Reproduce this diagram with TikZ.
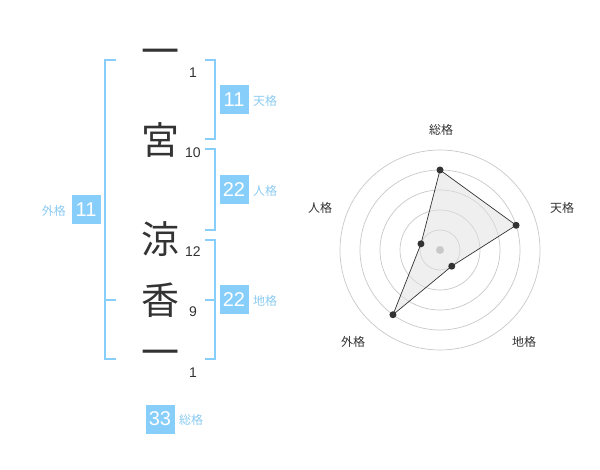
\documentclass[tikz,border=0pt]{standalone}
\usepackage{fontspec}
\setmainfont{Liberation Sans}
\newfontfamily\jp{Noto Sans CJK JP}
\definecolor{sky}{HTML}{87CEFA}
\definecolor{skytext}{HTML}{8CCBF2}
\definecolor{ink}{HTML}{333333}
\definecolor{ring}{HTML}{C8C8C8}
\definecolor{shade}{HTML}{E0E0E0}
\begin{document}
\begin{tikzpicture}[x=1pt,y=-1pt,
  kanji/.style={font=\jp\fontsize{38}{38}\selectfont,text=ink,inner sep=0pt},
  strokes/.style={font=\fontsize{14}{14}\selectfont,text=ink,inner sep=0pt},
  brk/.style={draw=sky,line width=2pt},
  valbox/.style={fill=sky,text=white,font=\fontsize{20}{20}\selectfont,minimum width=29pt,minimum height=29pt,inner sep=0pt},
  vallab/.style={text=skytext,font=\jp\fontsize{12}{12}\selectfont,inner sep=0pt},
  axlab/.style={text=ink,font=\jp\fontsize{12}{12}\selectfont,inner sep=0pt},
  dot/.style={circle,fill=ink,inner sep=0pt,minimum size=7pt}]
\useasboundingbox (0,0) rectangle (600,470);
% characters
\node[kanji] (c1) at (160,57) {一};
\node[kanji] (c2) at (160,140) {宮};
\node[kanji] (c3) at (160,239) {涼};
\node[kanji] (c4) at (160,300) {香};
\node[kanji] (c5) at (160,358) {一};
% stroke counts
\node[strokes] (s1) at (193,73) {1};
\node[strokes] (s2) at (193,153) {10};
\node[strokes] (s3) at (193,252) {12};
\node[strokes] (s4) at (193,312) {9};
\node[strokes] (s5) at (193,373) {1};
% outer bracket (外格)
\draw[brk] (116,60) -- (105,60) -- (105,359) -- (116,359);
\draw[brk] (105,300) -- (116,300);
% right brackets
\draw[brk] (205,60) -- (215,60) -- (215,139) -- (205,139);
\draw[brk] (205,149) -- (215,149) -- (215,230) -- (205,230);
\draw[brk] (205,240) -- (215,240) -- (215,359) -- (205,359);
\draw[brk] (205,300) -- (215,300);
% values
\node[valbox] (ten) at (234,100) {11};
\node[vallab,anchor=west] (tenl) at (253,101) {天格};
\node[valbox] (jin) at (234,190) {22};
\node[vallab,anchor=west] (jinl) at (253,191) {人格};
\node[valbox] (chi) at (234,300) {22};
\node[vallab,anchor=west] (chil) at (253,301) {地格};
\node[valbox] (gai) at (86,210) {11};
\node[vallab,anchor=east] (gail) at (66,211) {外格};
\node[valbox] (sou) at (160,419) {33};
\node[vallab,anchor=west] (soul) at (179,420) {総格};
% radar chart
\coordinate (O) at (440,250);
\foreach \r in {20,40,60,80,100} \draw[ring,line width=0.7pt] (O) circle[radius=\r];
\path (O) ++(-90:80) coordinate (pS);
\path (O) ++(-18:80) coordinate (pT);
\path (O) ++(54:20) coordinate (pC);
\path (O) ++(126:80) coordinate (pG);
\path (O) ++(198:20) coordinate (pJ);
\path[fill=shade,fill opacity=0.5] (pS) -- (pT) -- (pC) -- (pG) -- (pJ) -- cycle;
\fill[ring] (O) circle[radius=4];
\draw[ink,line width=0.7pt] (pS) -- (pT) -- (pC) -- (pG) -- (pJ) -- cycle;
\foreach \p in {pS,pT,pC,pG,pJ} \node[dot] at (\p) {};
\node[axlab] (aS) at (441,130) {総格};
\node[axlab] (aT) at (562,208) {天格};
\node[axlab] (aJ) at (320,208) {人格};
\node[axlab] (aC) at (524,342) {地格};
\node[axlab] (aG) at (353,342) {外格};
\end{tikzpicture}
\end{document}
